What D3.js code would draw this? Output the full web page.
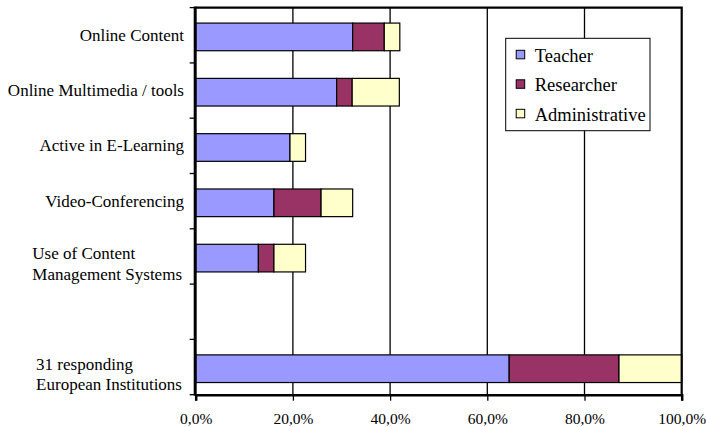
<!DOCTYPE html>
<html>
<head>
<meta charset="utf-8">
<script src="https://cdn.jsdelivr.net/npm/d3@7"></script>
<style>
  html, body { margin: 0; padding: 0; background: #fff; }
  svg { display: block; }
  svg text { font-family: "Liberation Serif", "Times New Roman", Times, "DejaVu Serif", serif; }
</style>
</head>
<body>
<svg id="chart" width="706" height="427"></svg>
<script>
// Share of staff groups per activity (percent of responding institutions)
const categories = [
  "Online Content",
  "Online Multimedia / tools",
  "Active in E-Learning",
  "Video-Conferencing",
  "Use of Content Management Systems",
  "",
  "31 responding European Institutions"
];
const categoryLines = [
  ["Online Content"],
  ["Online Multimedia / tools"],
  ["Active in E-Learning"],
  ["Video-Conferencing"],
  ["Use of Content", "Management Systems"],
  [],
  ["31 responding", "European Institutions"]
];
const teacher       = [32.3, 29.0, 19.4, 16.1, 12.9, null, 64.5];
const researcher    = [ 6.5,  3.2,  0.0,  9.7,  3.2, null, 22.6];
const administrative= [ 3.2,  9.7,  3.2,  6.5,  6.5, null, 12.9];
const seriesNames = ["Teacher", "Researcher", "Administrative"];
const seriesColors = ["#9999ff", "#993366", "#ffffcc"];
const xTicks = [0, 20, 40, 60, 80, 100];

const svg = d3.select("#chart");
const plot = { left: 195.7, right: 681.7, top: 7.6, bottom: 394.7 };

const x = d3.scaleLinear().domain([0, 100]).range([plot.left, plot.right]);
const y = d3.scaleBand().domain(categories)
  .range([plot.top, plot.bottom])
  .paddingInner(0.5).paddingOuter(0.25).align(0.56);
const step = y.step();

const rows = categories.map((c, i) => ({
  cat: c, vals: [teacher[i], researcher[i], administrative[i]]
})).filter(r => r.vals[0] !== null);

// vertical gridlines
svg.append("g").selectAll("line").data(xTicks.slice(1, -1)).join("line")
  .attr("x1", d => x(d)).attr("x2", d => x(d))
  .attr("y1", plot.top).attr("y2", plot.bottom)
  .attr("stroke", "#000").attr("stroke-width", 1.3);

// stacked bars
const stack = d3.stack().keys([0, 1, 2]).value((r, k) => r.vals[k]);
const layers = stack(rows);
svg.append("g").selectAll("g").data(layers).join("g")
  .attr("fill", (d, i) => seriesColors[i])
  .selectAll("rect").data(d => d.filter(s => s[1] - s[0] > 0)).join("rect")
  .attr("x", s => x(s[0]))
  .attr("width", s => x(s[1]) - x(s[0]))
  .attr("y", s => y(s.data.cat))
  .attr("height", y.bandwidth())
  .attr("stroke", "#000").attr("stroke-width", 1.2);

// frame: top and right edges
svg.append("path")
  .attr("d", `M${plot.left},${plot.top}H${plot.right}V${plot.bottom}`)
  .attr("fill", "none").attr("stroke", "#000").attr("stroke-width", 2.2);

// x axis
const xAxis = svg.append("g").attr("transform", `translate(0,${plot.bottom})`)
  .call(d3.axisBottom(x).tickValues(xTicks).tickSize(6).tickPadding(12)
    .tickFormat(d => d3.format(".1f")(d).replace(".", ",") + "%"));
xAxis.attr("font-family", null);
xAxis.select(".domain").attr("stroke-width", 2.5);
xAxis.selectAll(".tick line").attr("stroke-width", 1.3);
xAxis.selectAll("text").attr("font-size", 15.5).attr("fill", "#000");

// y axis line and tick marks at band boundaries
svg.append("line")
  .attr("x1", plot.left - 0.5).attr("x2", plot.left - 0.5)
  .attr("y1", plot.top - 1).attr("y2", plot.bottom + 1)
  .attr("stroke", "#000").attr("stroke-width", 3);
svg.append("g").selectAll("line").data(d3.range(categories.length + 1)).join("line")
  .attr("x1", plot.left - 6).attr("x2", plot.left)
  .attr("y1", i => plot.top + i * step).attr("y2", i => plot.top + i * step)
  .attr("stroke", "#000").attr("stroke-width", 1.3);

// category labels
const labels = svg.append("g").attr("font-size", 17).attr("fill", "#000");
categories.forEach((c, i) => {
  const lines = categoryLines[i];
  const cy = plot.top + (i + 0.5) * step;
  if (lines.length === 1) {
    labels.append("text").attr("x", 184).attr("y", cy + 5.5)
      .attr("text-anchor", "end").text(lines[0]);
  } else if (lines.length === 2) {
    const t = labels.append("text").attr("y", cy + 2.5).attr("opacity", 0);
    lines.forEach((l, j) => t.append("tspan").attr("x", 0).attr("dy", j ? 20.8 : 0).text(l));
    const w = t.node().getBBox().width;
    t.selectAll("tspan").attr("x", 182 - w);
    t.attr("opacity", 1);
  }
});

// legend
const legend = svg.append("g").attr("transform", "translate(505.7,38.3)");
legend.append("rect").attr("width", 144.3).attr("height", 92.4)
  .attr("fill", "#fff").attr("stroke", "#000").attr("stroke-width", 1);
seriesNames.forEach((name, i) => {
  const g = legend.append("g").attr("transform", `translate(0,${i * 29.5})`);
  g.append("rect").attr("x", 10.5).attr("y", 12).attr("width", 8.5).attr("height", 8.5)
    .attr("fill", seriesColors[i]).attr("stroke", "#000").attr("stroke-width", 1);
  g.append("text").attr("x", 29).attr("y", 23.3).attr("font-size", 18.5).text(name);
});
</script>
</body>
</html>
